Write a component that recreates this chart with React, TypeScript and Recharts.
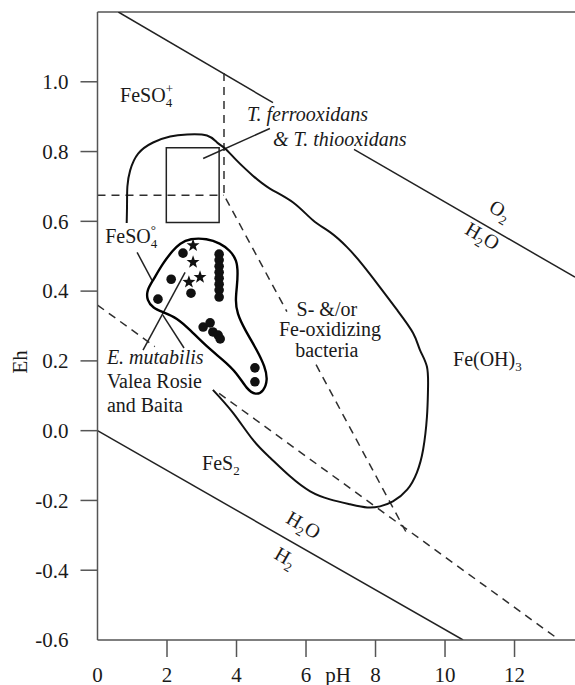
import React from "react";
import {
  ComposedChart,
  Line,
  Scatter,
  XAxis,
  YAxis,
  ReferenceLine,
  ReferenceArea,
} from "recharts";

const xTicks = [0, 2, 4, 6, 8, 10, 12];
const yTicks = [-0.6, -0.4, -0.2, 0, 0.2, 0.4, 0.6, 0.8, 1.0];

// water stability limits (gap in O2 line sits behind the label)
const o2Upper = [
  { pH: 0.6, eh: 1.2 },
  { pH: 5.05, eh: 0.94 },
];
const o2Lower = [
  { pH: 7.38, eh: 0.806 },
  { pH: 13.74, eh: 0.44 },
];
const h2Line = [
  { pH: 0, eh: 0 },
  { pH: 10.52, eh: -0.6 },
];

// dashed field boundaries
const sulfateBoundary = [
  { pH: 0, eh: 0.675 },
  { pH: 3.64, eh: 0.675 },
];
const ferricUpper = [
  { pH: 3.64, eh: 1.025 },
  { pH: 3.64, eh: 0.675 },
  { pH: 5.45, eh: 0.341 },
];
const ferricLower = [
  { pH: 6.29, eh: 0.189 },
  { pH: 8.87, eh: -0.289 },
];
const pyriteUpper = [
  { pH: 0, eh: 0.36 },
  { pH: 1.65, eh: 0.241 },
];
const pyriteLower = [
  { pH: 3.5, eh: 0.107 },
  { pH: 13.17, eh: -0.591 },
];

// S- and/or Fe-oxidizing bacteria field
const bacteriaField = [
  { pH: 0.84, eh: 0.595 },
  { pH: 0.85, eh: 0.65 },
  { pH: 0.86, eh: 0.7 },
  { pH: 0.94, eh: 0.746 },
  { pH: 1.17, eh: 0.794 },
  { pH: 1.6, eh: 0.826 },
  { pH: 2.09, eh: 0.843 },
  { pH: 2.58, eh: 0.849 },
  { pH: 3.15, eh: 0.846 },
  { pH: 3.44, eh: 0.826 },
  { pH: 3.67, eh: 0.809 },
  { pH: 4.01, eh: 0.774 },
  { pH: 4.47, eh: 0.731 },
  { pH: 4.96, eh: 0.694 },
  { pH: 5.63, eh: 0.654 },
  { pH: 6.2, eh: 0.603 },
  { pH: 6.69, eh: 0.569 },
  { pH: 7.18, eh: 0.526 },
  { pH: 7.64, eh: 0.474 },
  { pH: 8.13, eh: 0.411 },
  { pH: 8.62, eh: 0.346 },
  { pH: 9.08, eh: 0.28 },
  { pH: 9.28, eh: 0.231 },
  { pH: 9.48, eh: 0.183 },
  { pH: 9.51, eh: 0.117 },
  { pH: 9.48, eh: 0.04 },
  { pH: 9.37, eh: -0.054 },
  { pH: 9.19, eh: -0.12 },
  { pH: 8.91, eh: -0.169 },
  { pH: 8.5, eh: -0.203 },
  { pH: 8.13, eh: -0.217 },
  { pH: 7.76, eh: -0.22 },
  { pH: 7.27, eh: -0.211 },
  { pH: 6.69, eh: -0.197 },
  { pH: 6.12, eh: -0.174 },
  { pH: 5.54, eh: -0.131 },
  { pH: 4.96, eh: -0.077 },
  { pH: 4.47, eh: -0.026 },
  { pH: 3.9, eh: 0.051 },
  { pH: 3.32, eh: 0.117 },
];

// E. mutabilis field (closed)
const mutabilisField = [
  { pH: 2.37, eh: 0.537 },
  { pH: 2.66, eh: 0.551 },
  { pH: 3.15, eh: 0.551 },
  { pH: 3.53, eh: 0.537 },
  { pH: 3.81, eh: 0.517 },
  { pH: 4.01, eh: 0.489 },
  { pH: 4.04, eh: 0.451 },
  { pH: 4.01, eh: 0.411 },
  { pH: 3.97, eh: 0.374 },
  { pH: 4.01, eh: 0.337 },
  { pH: 4.24, eh: 0.289 },
  { pH: 4.59, eh: 0.231 },
  { pH: 4.82, eh: 0.183 },
  { pH: 4.9, eh: 0.146 },
  { pH: 4.78, eh: 0.112 },
  { pH: 4.55, eh: 0.102 },
  { pH: 4.3, eh: 0.118 },
  { pH: 4.01, eh: 0.166 },
  { pH: 3.61, eh: 0.203 },
  { pH: 3.15, eh: 0.24 },
  { pH: 2.66, eh: 0.289 },
  { pH: 2.29, eh: 0.323 },
  { pH: 1.88, eh: 0.34 },
  { pH: 1.6, eh: 0.351 },
  { pH: 1.42, eh: 0.374 },
  { pH: 1.42, eh: 0.403 },
  { pH: 1.6, eh: 0.431 },
  { pH: 1.88, eh: 0.48 },
  { pH: 2.17, eh: 0.517 },
];

// T. ferrooxidans & T. thiooxidans box
const thiobacillusBox = { pH: [1.98, 3.5], eh: [0.597, 0.811] };

// sample points
const samplesDots = [
  { pH: 2.46, eh: 0.509 },
  { pH: 2.12, eh: 0.434 },
  { pH: 1.74, eh: 0.377 },
  { pH: 2.69, eh: 0.394 },
  { pH: 3.5, eh: 0.506 },
  { pH: 3.5, eh: 0.489 },
  { pH: 3.5, eh: 0.471 },
  { pH: 3.5, eh: 0.454 },
  { pH: 3.5, eh: 0.437 },
  { pH: 3.5, eh: 0.42 },
  { pH: 3.5, eh: 0.403 },
  { pH: 3.5, eh: 0.383 },
  { pH: 3.04, eh: 0.297 },
  { pH: 3.24, eh: 0.309 },
  { pH: 3.32, eh: 0.283 },
  { pH: 3.47, eh: 0.274 },
  { pH: 3.53, eh: 0.263 },
  { pH: 4.53, eh: 0.18 },
  { pH: 4.53, eh: 0.14 },
];
const samplesStars = [
  { pH: 2.75, eh: 0.531 },
  { pH: 2.75, eh: 0.483 },
  { pH: 2.95, eh: 0.44 },
  { pH: 2.63, eh: 0.426 },
];

// leader lines from labels
const leaderThio = [
  { pH: 3.04, eh: 0.78 },
  { pH: 4.96, eh: 0.866 },
];
const leaderFeso4 = [
  { pH: 1.14, eh: 0.511 },
  { pH: 1.57, eh: 0.431 },
];
const leaderMutA = [
  { pH: 1.31, eh: 0.231 },
  { pH: 2.52, eh: 0.454 },
];
const leaderMutB = [
  { pH: 1.88, eh: 0.331 },
  { pH: 2.49, eh: 0.237 },
];

type Part = { t: string; k?: "sub" | "sup" };
const fieldLabels: {
  pH: number;
  eh: number;
  parts: Part[];
  anchor?: string;
  italic?: boolean;
  rotate?: number;
}[] = [
  { pH: 0.65, eh: 0.942, parts: [{ t: "FeSO" }, { t: "4", k: "sub" }, { t: "+", k: "sup" }] },
  { pH: 4.3, eh: 0.888, parts: [{ t: "T. ferrooxidans" }], italic: true },
  { pH: 5.05, eh: 0.816, parts: [{ t: "& T. thiooxidans" }], italic: true },
  { pH: 0.22, eh: 0.538, parts: [{ t: "FeSO" }, { t: "4", k: "sub" }, { t: "°", k: "sup" }] },
  { pH: 11.49, eh: 0.615, parts: [{ t: "O" }, { t: "2", k: "sub" }], anchor: "middle", rotate: 30 },
  { pH: 10.98, eh: 0.541, parts: [{ t: "H" }, { t: "2", k: "sub" }, { t: "O" }], anchor: "middle", rotate: 30 },
  { pH: 6.6, eh: 0.329, parts: [{ t: "S- &/or" }], anchor: "middle" },
  { pH: 6.69, eh: 0.271, parts: [{ t: "Fe-oxidizing" }], anchor: "middle" },
  { pH: 6.6, eh: 0.211, parts: [{ t: "bacteria" }], anchor: "middle" },
  { pH: 10.23, eh: 0.186, parts: [{ t: "Fe(OH)" }, { t: "3", k: "sub" }] },
  { pH: 0.27, eh: 0.19, parts: [{ t: "E. mutabilis" }], italic: true },
  { pH: 0.27, eh: 0.121, parts: [{ t: "Valea Rosie" }] },
  { pH: 0.27, eh: 0.053, parts: [{ t: "and Baita" }] },
  { pH: 3.01, eh: -0.113, parts: [{ t: "FeS" }, { t: "2", k: "sub" }] },
  { pH: 5.83, eh: -0.287, parts: [{ t: "H" }, { t: "2", k: "sub" }, { t: "O" }], anchor: "middle", rotate: 30 },
  { pH: 5.31, eh: -0.379, parts: [{ t: "H" }, { t: "2", k: "sub" }], anchor: "middle", rotate: 30 },
];

const FONT = "'Liberation Serif', 'Times New Roman', serif";
const INK = "#1a1a1a";
const AXIS = "#555";
const FS = 20;
const TICK = 17;
const Y_GAP = 12;
const X_GAP = 10;

const YTick = (props: any) => {
  const { x, y, payload } = props;
  const v = Number(payload.value);
  return (
    <g>
      {Math.abs(v + 0.6) > 1e-6 && (
        <line x1={x + Y_GAP} x2={x + Y_GAP + TICK} y1={y} y2={y} stroke={AXIS} strokeWidth={1.5} />
      )}
      <text x={x} y={y} dy="0.35em" textAnchor="end" fontFamily={FONT} fontSize={FS + 1} fill={INK}>
        {v.toFixed(1)}
      </text>
    </g>
  );
};

const XTick = (props: any) => {
  const { x, y, payload } = props;
  const v = Number(payload.value);
  return (
    <g>
      {v !== 0 && (
        <line x1={x} x2={x} y1={y - X_GAP - TICK} y2={y - X_GAP} stroke={AXIS} strokeWidth={1.5} />
      )}
      <text x={x} y={y} dy="0.71em" textAnchor="middle" fontFamily={FONT} fontSize={FS + 1} fill={INK}>
        {v}
      </text>
    </g>
  );
};

const dotShape = (props: any) => <circle cx={props.cx} cy={props.cy} r={4.8} fill="#111" />;

const starShape = (props: any) => {
  const { cx, cy } = props;
  const pts: string[] = [];
  for (let i = 0; i < 10; i++) {
    const r = i % 2 === 0 ? 6.8 : 2.8;
    const a = -Math.PI / 2 + (i * Math.PI) / 5;
    pts.push(`${cx + r * Math.cos(a)},${cy + r * Math.sin(a)}`);
  }
  return <polygon points={pts.join(" ")} fill="#111" />;
};

const labelShape = (props: any) => {
  const { cx, cy, payload } = props;
  const rot = payload.rotate;
  let shift = 0;
  let prev: string | undefined;
  return (
    <text
      x={cx}
      y={cy}
      dy={rot ? "0.35em" : undefined}
      textAnchor={payload.anchor || "start"}
      transform={rot ? `rotate(${rot} ${cx} ${cy})` : undefined}
      fontFamily={FONT}
      fontSize={FS}
      fontStyle={payload.italic ? "italic" : "normal"}
      fill={INK}
    >
      {payload.parts.map((p: Part, i: number) => {
        const target = p.k === "sub" ? 5 : p.k === "sup" ? -9 : 0;
        const dy = target - shift;
        shift = target;
        const dx = p.k === "sup" && prev === "sub" ? -6.5 : 0;
        prev = p.k;
        return (
          <tspan key={i} dy={dy} dx={dx} fontSize={p.k ? 13 : FS}>
            {p.t}
          </tspan>
        );
      })}
    </text>
  );
};

const thin = { stroke: "#222", strokeWidth: 1.5 };
const dashed = { stroke: "#2e2e2e", strokeWidth: 1.5, strokeDasharray: "8 6" };

const seg = (data: any[], style: any, key: string, type: any = "linear") => (
  <Line
    key={key}
    data={data}
    dataKey="eh"
    type={type}
    dot={false}
    activeDot={false}
    legendType="none"
    isAnimationActive={false}
    {...style}
  />
);

export default function App() {
  return (
    <div style={{ position: "absolute", left: 0, top: 0 }}>
      <ComposedChart width={575} height={685} margin={{ top: 12, right: 0, bottom: 0, left: 0 }}>
        <XAxis
          dataKey="pH"
          type="number"
          domain={[0, 13.74]}
          allowDataOverflow
          ticks={xTicks}
          interval={0}
          height={45}
          tickSize={TICK}
          tickMargin={X_GAP}
          tickLine={false}
          tick={<XTick />}
          axisLine={{ stroke: AXIS, strokeWidth: 1.5 }}
          label={(p: any) => {
            const vb = p.viewBox || {};
            return (
              <text
                x={vb.x + (vb.width * 6.92) / 13.74}
                y={vb.y + TICK + X_GAP}
                dy="0.71em"
                textAnchor="middle"
                fontFamily={FONT}
                fontSize={FS + 1}
                fill={INK}
              >
                pH
              </text>
            );
          }}
        />
        <YAxis
          dataKey="eh"
          type="number"
          domain={[-0.6, 1.2]}
          allowDataOverflow
          ticks={yTicks}
          interval={0}
          width={97.5}
          tickSize={TICK}
          tickMargin={Y_GAP}
          tickLine={false}
          tick={<YTick />}
          axisLine={{ stroke: AXIS, strokeWidth: 1.5 }}
          label={(p: any) => {
            const vb = p.viewBox || {};
            const cx = vb.x + 20;
            const cy = vb.y + vb.height * 0.557;
            return (
              <text
                x={cx}
                y={cy}
                dy="0.35em"
                textAnchor="middle"
                transform={`rotate(-90 ${cx} ${cy})`}
                fontFamily={FONT}
                fontSize={FS + 1}
                fill={INK}
              >
                Eh
              </text>
            );
          }}
        />
        <ReferenceLine y={1.2} stroke={AXIS} strokeWidth={1.5} />
        <ReferenceArea
          x1={thiobacillusBox.pH[0]}
          x2={thiobacillusBox.pH[1]}
          y1={thiobacillusBox.eh[0]}
          y2={thiobacillusBox.eh[1]}
          fill="none"
          stroke="#222"
          strokeWidth={1.5}
        />
        {seg(o2Upper, thin, "o2a")}
        {seg(o2Lower, thin, "o2b")}
        {seg(h2Line, thin, "h2")}
        {seg(sulfateBoundary, dashed, "so4")}
        {seg(ferricUpper, dashed, "fe3a")}
        {seg(ferricLower, dashed, "fe3b")}
        {seg(pyriteUpper, dashed, "pya")}
        {seg(pyriteLower, dashed, "pyb")}
        {seg(leaderThio, thin, "l1")}
        {seg(leaderFeso4, thin, "l2")}
        {seg(leaderMutA, thin, "l3")}
        {seg(leaderMutB, thin, "l4")}
        {seg(bacteriaField, { stroke: "#111", strokeWidth: 2 }, "bact", "natural")}
        {seg(mutabilisField, { stroke: "#000", strokeWidth: 2.4 }, "mut", "basisClosed")}
        <Scatter data={samplesDots} dataKey="eh" shape={dotShape} isAnimationActive={false} legendType="none" />
        <Scatter data={samplesStars} dataKey="eh" shape={starShape} isAnimationActive={false} legendType="none" />
        <Scatter data={fieldLabels} dataKey="eh" shape={labelShape} isAnimationActive={false} legendType="none" />
      </ComposedChart>
    </div>
  );
}
